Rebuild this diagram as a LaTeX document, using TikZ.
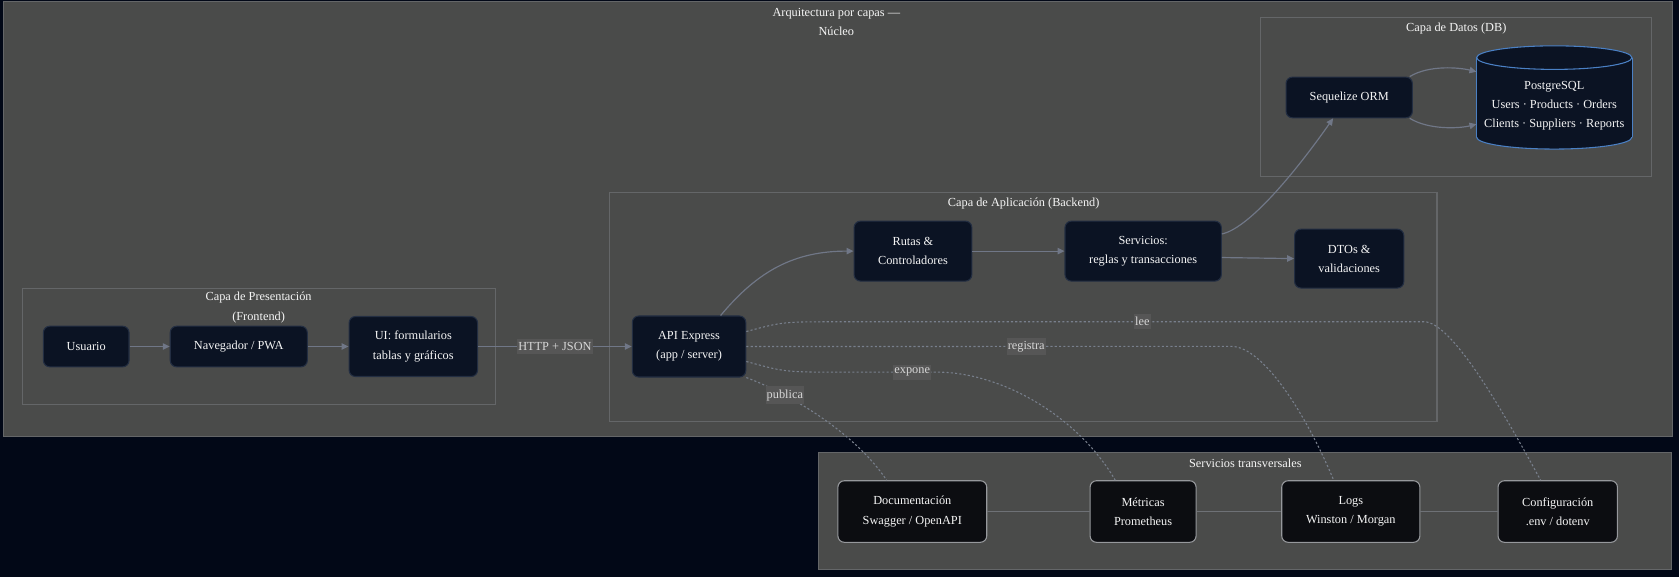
\documentclass[tikz,border=0pt]{standalone}
\usepackage{fontspec}
\setmainfont{Liberation Serif}
\usetikzlibrary{shapes,arrows.meta,positioning,calc}

\definecolor{fondo}{RGB}{2,8,23}
\definecolor{capagris}{RGB}{74,75,74}
\definecolor{capaborde}{RGB}{100,102,104}
\definecolor{cajafondo}{RGB}{11,19,35}
\definecolor{cajaborde}{RGB}{35,46,66}
\definecolor{transfondo}{RGB}{12,13,17}
\definecolor{transborde}{RGB}{150,152,156}
\definecolor{flecha}{RGB}{112,119,135}
\definecolor{punteado}{RGB}{120,127,140}
\definecolor{enlacegris}{RGB}{110,113,118}
\definecolor{etiqueta}{RGB}{86,86,86}
\definecolor{etiqtexto}{RGB}{215,215,215}
\definecolor{texto}{RGB}{245,245,245}
\definecolor{dbborde}{RGB}{74,128,196}

\begin{document}
\begin{tikzpicture}[x=1pt, y=-1pt, node distance=40pt]
\tikzset{
    %Define standard arrow tip
    >={Triangle[length=6.5pt, width=6pt]},
    %Define style for layers
    capa/.style={draw=capaborde, fill=capagris, line width=1pt},
    rotulo/.style={text=texto, font=\fontsize{11.5}{17.8}\selectfont, align=center},
    %Define style for boxes
    caja/.style={
           rectangle,
           rounded corners=6pt,
           draw=cajaborde, fill=cajafondo, line width=1pt,
           text=texto,
           font=\fontsize{11.5}{17.8}\selectfont,
           align=center,
           minimum height=56pt},
    transcaja/.style={caja, draw=transborde, fill=transfondo, minimum height=57.5pt},
    % Define arrow style
    pil/.style={
           ->,
           draw=flecha,
           line width=1.1pt},
    punto/.style={draw=punteado, line width=1pt, dash pattern=on 2pt off 2pt},
    enlace/.style={draw=enlacegris, line width=1pt},
    etiq/.style={
           fill=etiqueta, text=etiqtexto,
           font=\fontsize{11.5}{13}\selectfont,
           inner xsep=1pt, inner ysep=3pt}
}
 % background and layers
 \fill[fondo] (0,0) rectangle (1568,539);
 \useasboundingbox (0,0) rectangle (1568,539);
 \draw[capa] (3,1.6) rectangle (1561.5,408);
 \node[rotulo] (tnucleo) at (781,20.3) {Arquitectura por capas —\\Núcleo};
 \draw[capa] (21,269) rectangle (463,378);
 \node[rotulo] (tpresentacion) at (241.5,287.2) {Capa de Presentación\\(Frontend)};
 \draw[capa] (569,180) rectangle (1342,394);
 \node[rotulo] (taplicacion) at (956,190) {Capa de Aplicación (Backend)};
 \draw[capa] (1177,16) rectangle (1542.5,165);
 \node[rotulo] (tdatos) at (1360,26.5) {Capa de Datos (DB)};
 \draw[capa] (764,423) rectangle (1561,531.5);
 \node[rotulo] (ttransversales) at (1163,432.5) {Servicios transversales};

 %nodes
 \node[caja, minimum width=80pt, minimum height=38pt] (usuario) at (80.5,323.6) {Usuario};
 \node[caja, minimum width=128pt, minimum height=38pt, right=37.5pt of usuario] (navegador) {Navegador / PWA};
 \node[caja, minimum width=120pt, right=38pt of navegador] (ui) {UI: formularios\\tablas y gráficos};
 \node[caja, minimum width=106pt, minimum height=57pt, right=143.5pt of ui] (api) {API Express\\(app / server)};
 \node[caja, minimum width=110pt] (rutas) at (852.6,234.5) {Rutas \&\\Controladores};
 \node[caja, minimum width=146pt, right=86pt of rutas] (servicios) {Servicios:\\reglas y transacciones};
 \node[caja, minimum width=102pt, minimum height=55pt] (dtos) at (1260,241.5) {DTOs \&\\validaciones};
 \node[caja, minimum width=118pt, minimum height=38pt] (sequelize) at (1260,91) {Sequelize ORM};
 % the database is drawn as a cylinder by hand
 \node[minimum width=145pt, minimum height=96pt, inner sep=0pt] (db) at (1451.5,91) {};
 \fill[cajafondo] ([yshift=11pt]db.south) ellipse [x radius=72.5pt, y radius=11pt];
 \draw[dbborde, line width=1pt] ([yshift=11pt]db.south) ellipse [x radius=72.5pt, y radius=11pt];
 \fill[cajafondo] ([yshift=-11pt]db.north west) rectangle ([yshift=11pt]db.south east);
 \draw[dbborde, line width=1pt] ([yshift=-11pt]db.north west) -- ([yshift=11pt]db.south west)
      ([yshift=-11pt]db.north east) -- ([yshift=11pt]db.south east);
 \filldraw[fill=cajafondo, draw=dbborde, line width=1pt] ([yshift=-11pt]db.north) ellipse [x radius=72.5pt, y radius=11pt];
 \node[rotulo] (dbtexto) at ([yshift=-8pt]db.center) {PostgreSQL\\Users · Products · Orders\\Clients · Suppliers · Reports};

 \node[transcaja, minimum width=139pt] (doc) at (852,477.7) {Documentación\\Swagger / OpenAPI};
 \node[transcaja, minimum width=99pt, right=95.5pt of doc] (metricas) {Métricas\\Prometheus};
 \node[transcaja, minimum width=129pt, right=79pt of metricas] (logs) {Logs\\Winston / Morgan};
 \node[transcaja, minimum width=111.5pt, right=72pt of logs] (config) {Configuración\\.env / dotenv};

 % edges
 \draw[pil] (usuario) -- (navegador);
 \draw[pil] (navegador) -- (ui);
 \draw[pil] (ui) -- node[etiq] {HTTP + JSON} (api);
 \draw[pil] ([xshift=-24pt]api.north east) .. controls +(35,-42) and +(-55,0) .. (rutas.west);
 \draw[pil] (rutas) -- (servicios);
 \draw[pil] ([yshift=-6pt]servicios.east) -- (dtos.west);
 \draw[pil] ([yshift=16pt]servicios.east) .. controls +(28,-6) and +(-28,40) .. ([xshift=-15pt]sequelize.south);
 \draw[pil] ([xshift=-3pt]sequelize.north east) .. controls +(18,-11) and +(-16,-4) .. ([yshift=24pt]db.west);
 \draw[pil] ([xshift=-3pt]sequelize.south east) .. controls +(18,11) and +(-16,4) .. ([yshift=-25pt]db.west);

 % dotted links to the transversal services
 \draw[punto] ([yshift=14pt]api.east) .. controls +(30,-8) and +(-40,0) .. (770,300.5)
   -- node[etiq, pos=0.53] {lee} (1330,300.5)
   .. controls +(25,0) and +(-38,-70) .. ([xshift=-16pt]config.north);
 \draw[punto] (api.east) -- node[etiq, pos=0.577] {registra} (1150,323.5)
   .. controls +(30,0) and +(-25,-60) .. ([xshift=-16pt]logs.north);
 \draw[punto] ([yshift=-14pt]api.east) .. controls +(30,8) and +(-40,0) .. (770,347.5)
   -- node[etiq, pos=0.78] {expone} (875,347.5)
   .. controls +(60,0) and +(-35,-60) .. ([xshift=-26pt]metricas.north);
 \draw[punto] (api.south east) .. controls +(40,15) and +(-30,-45) .. node[etiq, pos=0.27] {publica} ([xshift=-24pt]doc.north);

 \draw[enlace] (doc) -- (metricas);
 \draw[enlace] (metricas) -- (logs);
 \draw[enlace] (logs) -- (config);
\end{tikzpicture}
\end{document}
